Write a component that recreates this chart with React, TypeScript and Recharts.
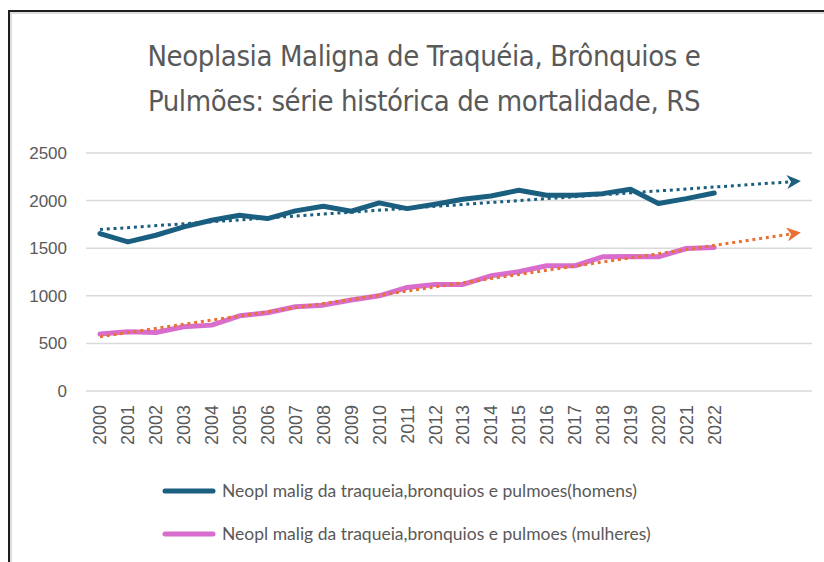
import React from 'react';
import { LineChart, Line, XAxis, YAxis, CartesianGrid } from 'recharts';

const years = [
  '2000', '2001', '2002', '2003', '2004', '2005', '2006', '2007', '2008', '2009', '2010', '2011',
  '2012', '2013', '2014', '2015', '2016', '2017', '2018', '2019', '2020', '2021', '2022',
];
// the trend lines run three periods past the last year
const forecastYears = ['2023', '2024', '2025'];

const homens = [
  1654, 1566, 1636, 1724, 1794, 1846, 1811, 1892, 1941, 1888, 1976, 1916,
  1962, 2014, 2049, 2108, 2056, 2056, 2073, 2119, 1969, 2021, 2080,
];
const mulheres = [
  598, 622, 615, 675, 692, 790, 822, 885, 902, 955, 1000, 1087,
  1119, 1119, 1210, 1252, 1315, 1315, 1409, 1413, 1409, 1497, 1507,
];
// trend line values at 2000 and 2025
const trendHomens = [1696, 2203];
const trendMulheres = [570, 1661];

const yTicks = [0, 500, 1000, 1500, 2000, 2500];

const titleLines = [
  'Neoplasia Maligna de Traquéia, Brônquios e',
  'Pulmões: série histórica de mortalidade, RS',
];
const legendItems = [
  { name: 'Neopl malig da traqueia,bronquios e pulmoes(homens)', color: '#1a5e80' },
  { name: 'Neopl malig da traqueia,bronquios e pulmoes (mulheres)', color: '#d86dcd' },
];

const BLUE = '#1a5e80';
const PINK = '#d86dcd';
const ORANGE = '#e97132';
const GRAY_TEXT = '#595959';

const periods = [...years, ...forecastYears];
const last = periods.length - 1;
const data = periods.map((year, i) => ({
  year,
  homens: i < homens.length ? homens[i] : null,
  mulheres: i < mulheres.length ? mulheres[i] : null,
  trendH: i === 0 ? trendHomens[0] : i === last ? trendHomens[1] : null,
  trendM: i === 0 ? trendMulheres[0] : i === last ? trendMulheres[1] : null,
}));

const YearTick = (props: any) => {
  const { x, y, payload } = props;
  if (!years.includes(payload.value)) return null;
  return (
    <g transform={`translate(${x},${y})`}>
      <text
        transform="rotate(-90)"
        x={-14}
        y={0}
        dy="0.36em"
        textAnchor="end"
        fill={GRAY_TEXT}
        fontSize={18}
        fontFamily="'Liberation Sans', Arial, sans-serif"
      >
        {payload.value}
      </text>
    </g>
  );
};

export default function App() {
  return (
    <div
      style={{
        position: 'fixed',
        left: 0,
        top: 0,
        width: 824,
        height: 562,
        overflow: 'hidden',
        background: '#fff',
      }}
    >
      <div
        style={{
          position: 'absolute',
          left: 8,
          top: 10,
          width: 900,
          height: 700,
          borderLeft: '2px solid #1e1e1e',
          borderTop: '2px solid #1e1e1e',
          boxShadow: 'inset 2px 2px 0 #dcdcdc',
        }}
      />
      <div
        style={{
          position: 'absolute',
          left: 0,
          top: 34,
          width: 848,
          textAlign: 'center',
          fontFamily: "'Liberation Sans Narrow', 'DejaVu Sans Condensed', sans-serif",
          fontSize: 29,
          letterSpacing: -0.4,
          lineHeight: '45px',
          color: GRAY_TEXT,
        }}
      >
        {titleLines.map((t) => (
          <div key={t}>{t}</div>
        ))}
      </div>
      <div style={{ position: 'absolute', left: 0, top: 0 }}>
        <LineChart width={824} height={562} data={data} margin={{ top: 153, right: 12, left: 0, bottom: 101 }}>
          <defs>
            <marker id="arrowBlue" viewBox="0 0 10 10" refX="8" refY="5" markerWidth="14" markerHeight="14" markerUnits="userSpaceOnUse" orient="auto">
              <path d="M0,0 L10,5 L0,10 L3,5 z" fill={BLUE} />
            </marker>
            <marker id="arrowOrange" viewBox="0 0 10 10" refX="8" refY="5" markerWidth="14" markerHeight="14" markerUnits="userSpaceOnUse" orient="auto">
              <path d="M0,0 L10,5 L0,10 L3,5 z" fill={ORANGE} />
            </marker>
          </defs>
          <CartesianGrid vertical={false} stroke="#d9d9d9" strokeWidth={1.5} />
          <XAxis
            dataKey="year"
            scale="band"
            interval={0}
            height={70}
            axisLine={false}
            tickLine={false}
            tickSize={0}
            tickMargin={0}
            tick={<YearTick />}
          />
          <YAxis
            domain={[0, 2500]}
            ticks={yTicks}
            width={86}
            axisLine={false}
            tickLine={false}
            tickSize={0}
            tickMargin={19}
            tick={{ fill: GRAY_TEXT, fontSize: 17, fontFamily: "'Liberation Sans', Arial, sans-serif" }}
          />
          <Line
            dataKey="homens"
            type="linear"
            stroke={BLUE}
            strokeWidth={5}
            strokeLinejoin="round"
            strokeLinecap="round"
            dot={false}
            isAnimationActive={false}
          />
          <Line
            dataKey="mulheres"
            type="linear"
            stroke={PINK}
            strokeWidth={5}
            strokeLinejoin="round"
            strokeLinecap="round"
            dot={false}
            isAnimationActive={false}
          />
          <Line
            dataKey="trendH"
            type="linear"
            stroke={BLUE}
            strokeWidth={3}
            strokeDasharray="3 3.8"
            connectNulls
            dot={false}
            markerEnd="url(#arrowBlue)"
            isAnimationActive={false}
          />
          <Line
            dataKey="trendM"
            type="linear"
            stroke={ORANGE}
            strokeWidth={3}
            strokeDasharray="3 3.8"
            connectNulls
            dot={false}
            markerEnd="url(#arrowOrange)"
            isAnimationActive={false}
          />
        </LineChart>
      </div>
      <div
        style={{
          position: 'absolute',
          left: 162,
          top: 469,
          fontFamily: 'Lato, sans-serif',
          fontSize: 17.5,
          color: GRAY_TEXT,
        }}
      >
        {legendItems.map((item) => (
          <div key={item.name} style={{ display: 'flex', alignItems: 'center', height: 43 }}>
            <svg width={60} height={10}>
              <line x1={3} y1={5} x2={51} y2={5} stroke={item.color} strokeWidth={5} strokeLinecap="round" />
            </svg>
            <span>{item.name}</span>
          </div>
        ))}
      </div>
    </div>
  );
}
